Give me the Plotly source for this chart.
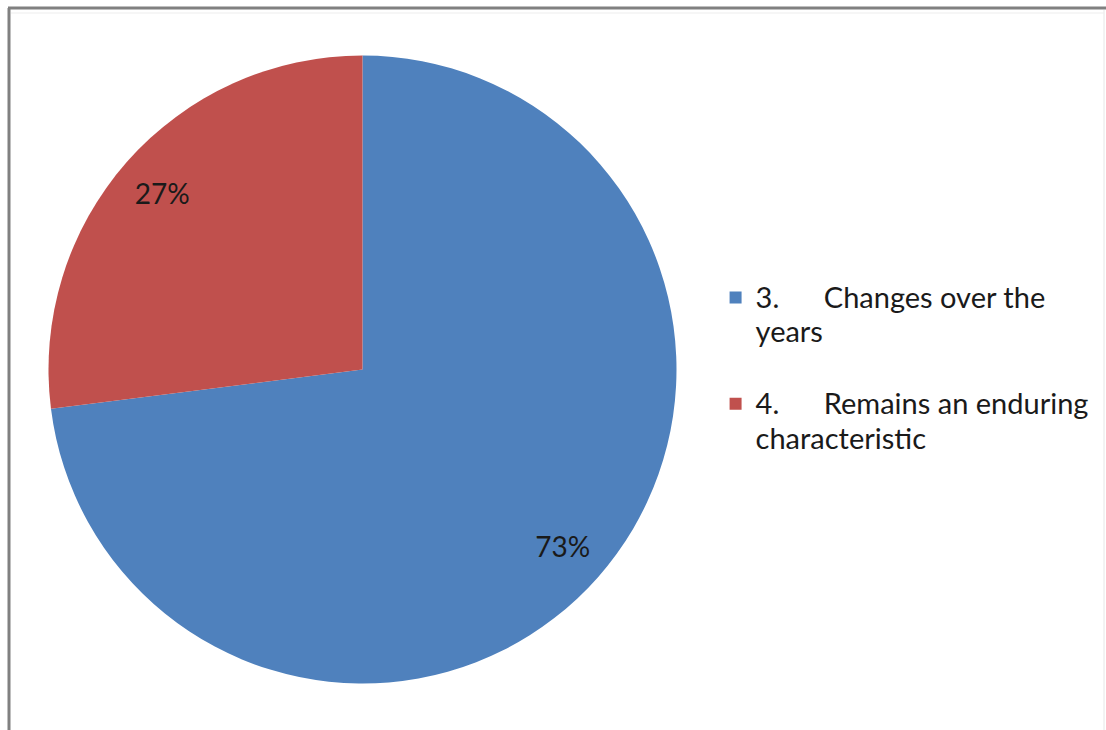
import plotly.graph_objects as go

# Survey responses: does the trait change over the years or endure?
label_lines = [
    ["3.\u00a0\u00a0\u00a0\u00a0\u00a0\u00a0Changes over the", "years", "\u00a0"],
    ["4.\u00a0\u00a0\u00a0\u00a0\u00a0\u00a0Remains an enduring", "characteristic"],
]
shares = [73, 27]
slice_colors = ["#4F81BD", "#C0504D"]

LEGEND_GLYPH = 29
labels = [
    "<br>".join(f"<span style='font-size:{LEGEND_GLYPH}px'>{ln}</span>" for ln in lines)
    for lines in label_lines
]

W, H = 1106, 730
cx, cy, r = 362.5, 369.5, 314  # pie centre and radius in pixels (from top-left)
domain = dict(
    x=[(cx - r) / W, (cx + r) / W],
    y=[(H - cy - r) / H, (H - cy + r) / H],
)

fig = go.Figure()

# filled slices
fig.add_trace(
    go.Pie(
        labels=labels,
        values=shares,
        sort=False,
        direction="clockwise",
        rotation=0,
        marker=dict(colors=slice_colors, line=dict(width=0)),
        textinfo="none",
        domain=domain,
        hoverinfo="label+percent",
    )
)

# percentage labels, set in an outer ring so they sit near the rim
fig.add_trace(
    go.Pie(
        labels=labels,
        values=shares,
        sort=False,
        direction="clockwise",
        rotation=0,
        hole=0.7,
        marker=dict(colors=["rgba(0,0,0,0)"] * 2, line=dict(width=0)),
        texttemplate="%{percent:.0%}",
        textposition="inside",
        insidetextorientation="horizontal",
        insidetextfont=dict(family="Lato", size=28, color="#1a1a1a"),
        domain=domain,
        showlegend=False,
        hoverinfo="skip",
    )
)

frame = "#808080"
fig.update_layout(
    width=W,
    height=H,
    margin=dict(l=0, r=0, t=0, b=0),
    paper_bgcolor="white",
    plot_bgcolor="white",
    font=dict(family="Lato", color="#1a1a1a"),
    showlegend=True,
    legend=dict(
        x=0.647,
        y=0.4955,
        xanchor="left",
        yanchor="middle",
        valign="top",
        font=dict(family="Lato", size=26.5, color="#1a1a1a"),
        bgcolor="rgba(0,0,0,0)",
        itemclick=False,
    ),
    shapes=[
        dict(type="line", xref="paper", yref="paper", x0=8 / W, x1=1, y0=1 - 8 / H, y1=1 - 8 / H,
             line=dict(color=frame, width=3)),
        dict(type="line", xref="paper", yref="paper", x0=9 / W, x1=9 / W, y0=0, y1=1 - 8 / H,
             line=dict(color=frame, width=3)),
        dict(type="line", xref="paper", yref="paper", x0=1104 / W, x1=1104 / W, y0=0, y1=1 - 10 / H,
             line=dict(color="#e6e6e6", width=1)),
        dict(type="line", xref="paper", yref="paper", x0=11 / W, x1=1104 / W, y0=1 - 13 / H, y1=1 - 13 / H,
             line=dict(color="#ededed", width=1)),
    ],
)

fig.write_html("out.html")
